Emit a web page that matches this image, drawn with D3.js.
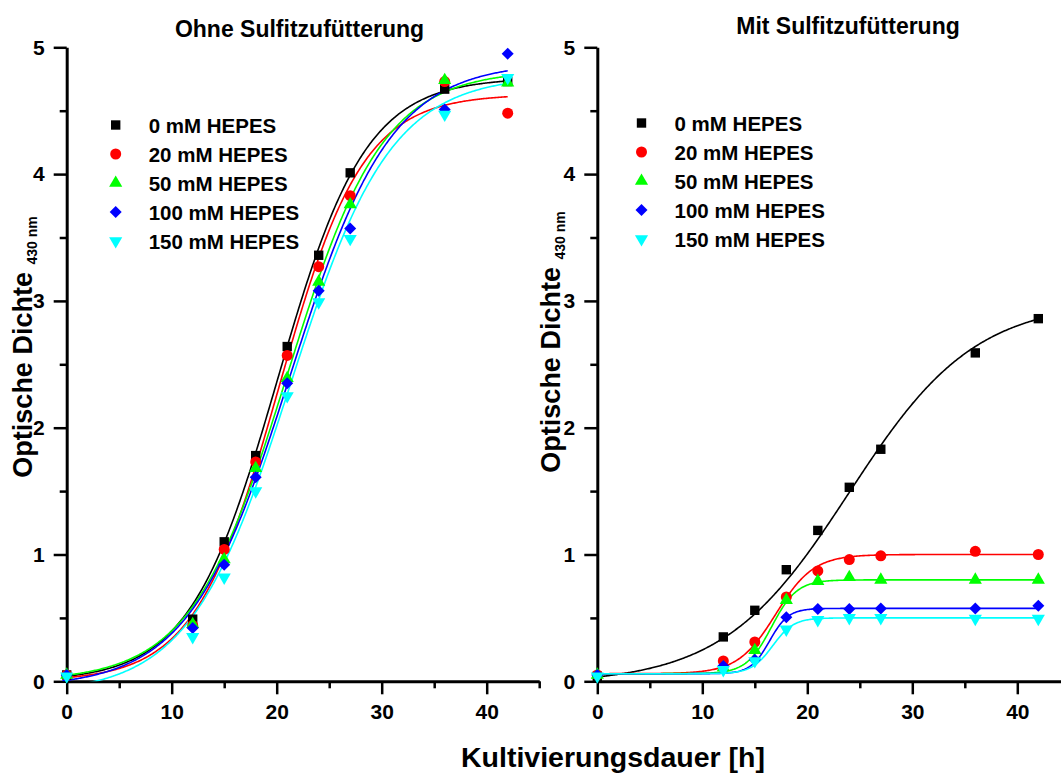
<!DOCTYPE html>
<html>
<head>
<meta charset="utf-8">
<script src="https://cdn.jsdelivr.net/npm/d3@7"></script>
<style>
  body { margin: 0; background: #fff; }
  svg { display: block; font-family: "Liberation Sans", Arial, sans-serif; font-weight: bold; }
</style>
</head>
<body>
<svg id="chart" width="1061" height="773"></svg>
<script>
// sampling times [h]
const times = [0, 12, 15, 18, 21, 24, 27, 36, 42];
const seriesNames = ['0 mM HEPES', '20 mM HEPES', '50 mM HEPES', '100 mM HEPES', '150 mM HEPES'];
const seriesColors = ['#000000', '#ff0000', '#00ff00', '#0000ff', '#00ffff'];
const yTicks = [0, 1, 2, 3, 4, 5];
const yMinor = [0.5, 1.5, 2.5, 3.5, 4.5];
const xTicks = [0, 10, 20, 30, 40];
const xMinor = [5, 15, 25, 35, 45];

// Ohne Sulfitzufuetterung - OD430
const ohne0   = [0.05, 0.49, 1.10, 1.78, 2.64, 3.36, 4.01, 4.67, 4.73];
const ohne20  = [0.05, 0.44, 1.04, 1.73, 2.57, 3.27, 3.83, 4.73, 4.48];
const ohne50  = [0.05, 0.45, 0.96, 1.68, 2.39, 3.15, 3.76, 4.74, 4.72];
const ohne100 = [0.05, 0.42, 0.92, 1.61, 2.35, 3.08, 3.57, 4.51, 4.95];
const ohne150 = [0.04, 0.35, 0.82, 1.50, 2.25, 2.99, 3.49, 4.47, 4.76];

// Mit Sulfitzufuetterung - OD430
const mit0   = [0.04, 0.35, 0.56, 0.88, 1.19, 1.53, 1.83, 2.59, 2.86];
const mit20  = [0.05, 0.16, 0.31, 0.665, 0.87, 0.96, 0.99, 1.025, 1.00];
const mit50  = [0.05, 0.11, 0.245, 0.64, 0.79, 0.82, 0.80, 0.80, 0.80];
const mit100 = [0.05, 0.12, 0.17, 0.505, 0.57, 0.57, 0.575, 0.575, 0.595];
const mit150 = [0.04, 0.09, 0.16, 0.41, 0.485, 0.50, 0.50, 0.495, 0.495];

// Boltzmann fit parameters [A1, A2, x0, dx]
const ohneFit = [
  [0.00, 4.76, 20.08, 4.2],
  [0.00, 4.63, 20.2, 4.0],
  [0.00, 4.82, 20.98, 4.56],
  [-0.05, 4.88, 21.3, 4.8],
  [-0.10, 4.78, 21.3, 4.8]
];
const mitFit = [
  [-0.02, 3.0, 24.0, 6.0],
  [0.06, 1.0, 17.0, 1.8],
  [0.06, 0.80, 16.6, 1.2],
  [0.06, 0.575, 16.4, 0.9],
  [0.06, 0.50, 16.7, 1.0]
];

const svg = d3.select('#chart');

const symbols = [
  {type: d3.symbolSquare, size: 88, rot: 0},
  {type: d3.symbolCircle, size: 95, rot: 0},
  {type: d3.symbolTriangle, size: 75, rot: 0},
  {type: d3.symbolSquare, size: 72, rot: 45},
  {type: d3.symbolTriangle, size: 75, rot: 180}
];

function boltzmann(p, t) {
  return p[1] + (p[0] - p[1]) / (1 + Math.exp((t - p[2]) / p[3]));
}

function drawPanel(cfg, idx) {
  const x = d3.scaleLinear().domain([0, 45]).range([cfg.left, cfg.left + 45 * 10.5]);
  const y = d3.scaleLinear().domain([0, 5]).range([681.3, 47.3]);
  const g = svg.append('g');

  const clipId = 'clip' + idx;
  svg.append('clipPath').attr('id', clipId)
    .append('rect')
    .attr('x', cfg.left - 10).attr('y', 0)
    .attr('width', 45 * 10.5 + 10).attr('height', y(0));

  // minor ticks
  g.append('g')
    .attr('transform', `translate(${cfg.left},0)`)
    .call(d3.axisLeft(y).tickValues(yMinor).tickSize(7).tickFormat(''))
    .call(a => a.select('.domain').remove());
  g.append('g')
    .attr('transform', `translate(0,${y(0)})`)
    .call(d3.axisBottom(x).tickValues(xMinor).tickSize(7).tickFormat(''))
    .call(a => a.select('.domain').remove());

  // major axes
  g.append('g')
    .attr('transform', `translate(${cfg.left},0)`)
    .call(d3.axisLeft(y).tickValues(yTicks).tickFormat(d3.format('d'))
      .tickSize(13).tickPadding(9).tickSizeOuter(0));
  g.append('g')
    .attr('transform', `translate(0,${y(0)})`)
    .call(d3.axisBottom(x).tickValues(xTicks).tickFormat(d3.format('d'))
      .tickSize(13).tickPadding(10).tickSizeOuter(0));

  g.selectAll('.domain').attr('stroke', '#000').attr('stroke-width', 3);
  g.selectAll('.tick line').attr('stroke', '#000').attr('stroke-width', 2.5);
  g.selectAll('.tick text')
    .attr('fill', '#000')
    .style('font-size', '21px')
    .style('font-weight', 'bold')
    .style('font-family', '"Liberation Sans", Arial, sans-serif');

  // fitted curves
  const tGrid = d3.range(-0.4, 42.01, 0.1);
  const line = d3.line().x(d => x(d[0])).y(d => y(d[1]));
  const curves = g.append('g').attr('clip-path', `url(#${clipId})`);
  cfg.fits.forEach((p, i) => {
    curves.append('path')
      .datum(tGrid.map(t => [t, boltzmann(p, t)]))
      .attr('fill', 'none')
      .attr('stroke', seriesColors[i])
      .attr('stroke-width', 1.6)
      .attr('d', line);
  });

  // data points
  cfg.series.forEach((vals, i) => {
    const s = symbols[i];
    g.append('g').selectAll('path')
      .data(vals)
      .join('path')
      .attr('d', d3.symbol().type(s.type).size(s.size))
      .attr('transform', (d, j) => `translate(${x(times[j])},${y(d)}) rotate(${s.rot})`)
      .attr('fill', seriesColors[i]);
  });

  // legend
  seriesNames.forEach((name, i) => {
    const s = symbols[i];
    const ly = cfg.legendY + i * 29;
    g.append('path')
      .attr('d', d3.symbol().type(s.type).size(s.size))
      .attr('transform', `translate(${cfg.legendX},${ly}) rotate(${s.rot})`)
      .attr('fill', seriesColors[i]);
    g.append('text')
      .attr('x', cfg.legendX + 33)
      .attr('y', ly + 7.5)
      .style('font-size', '20.5px')
      .text(name);
  });

  // title
  g.append('text')
    .attr('x', cfg.titleX)
    .attr('y', cfg.titleY)
    .attr('text-anchor', 'middle')
    .style('font-size', '23px')
    .text(cfg.title);

  // y label with subscript
  const yl = g.append('text')
    .attr('transform', `translate(${cfg.ylabelX},${cfg.ylabelY}) rotate(-90)`)
    .attr('text-anchor', 'middle')
    .style('font-size', '27px');
  yl.append('tspan').text('Optische Dichte ');
  yl.append('tspan').attr('dy', 5).style('font-size', '14px').text('430 nm');
}

drawPanel({
  left: 66.7, title: 'Ohne Sulfitzufütterung', titleX: 299.5, titleY: 37,
  series: [ohne0, ohne20, ohne50, ohne100, ohne150], fits: ohneFit,
  legendX: 115.7, legendY: 125, ylabelX: 32, ylabelY: 347
}, 0);

drawPanel({
  left: 597.3, title: 'Mit Sulfitzufütterung', titleX: 848, titleY: 34,
  series: [mit0, mit20, mit50, mit100, mit150], fits: mitFit,
  legendX: 641.5, legendY: 123, ylabelX: 560, ylabelY: 342
}, 1);

svg.append('text')
  .attr('x', 613)
  .attr('y', 767)
  .attr('text-anchor', 'middle')
  .style('font-size', '28.5px')
  .text('Kultivierungsdauer [h]');
</script>
</body>
</html>
